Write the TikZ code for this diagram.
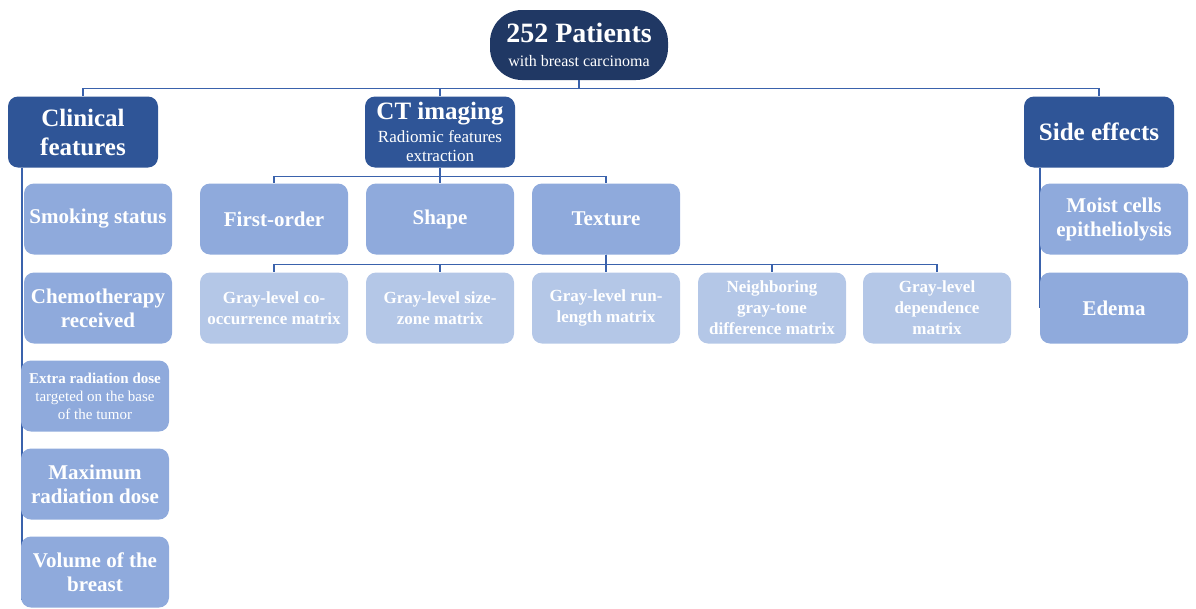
\documentclass[tikz,border=0pt]{standalone}
\usepackage{fontspec}
\setmainfont{Liberation Serif}
\usetikzlibrary{backgrounds}
\definecolor{navy}{HTML}{203864}
\definecolor{dkblue}{HTML}{2F5597}
\definecolor{mdblue}{HTML}{8FAADC}
\definecolor{ltblue}{HTML}{B4C7E7}
\definecolor{lnblue}{HTML}{3A62AC}
\begin{document}
\begin{tikzpicture}[x=1pt,y=-1pt,
    box/.style={rounded corners=10pt, text=white, align=center, inner sep=2pt},
    lvlone/.style={box, fill=dkblue, minimum width=150pt, minimum height=71pt, font=\bfseries\fontsize{25}{29}\selectfont},
    lvltwo/.style={box, fill=mdblue, minimum width=148pt, minimum height=71pt, font=\bfseries\fontsize{21}{24}\selectfont},
    lvlthree/.style={box, fill=ltblue, minimum width=148pt, minimum height=71pt, font=\bfseries\fontsize{17}{21}\selectfont},
    link/.style={draw=lnblue, line width=1.2pt}]
    \useasboundingbox (0,0) rectangle (1196,608);
    % root
    \node[box, fill=navy, rounded corners=32pt, minimum width=178pt, minimum height=70pt,
          font=\fontsize{16}{19}\selectfont] (top) at (579,45)
        {{\bfseries\fontsize{28}{30}\selectfont 252 Patients}\\[5pt]with breast carcinoma};
    % first level
    \node[lvlone] (clin) at (83,132) {Clinical\\features};
    \node[lvlone, font=\fontsize{17}{19}\selectfont] (ct) at (440,132)
        {{\bfseries\fontsize{25}{27}\selectfont CT imaging}\\[4pt]Radiomic features\\extraction};
    \node[lvlone] (side) at (1099,132) {Side effects};
    % clinical features
    \node[lvltwo] (smok) at (98,219) {Smoking status};
    \node[lvltwo] (chemo) at (98,308) {Chemotherapy\\received};
    \node[lvltwo, font=\fontsize{15}{18}\selectfont] (extra) at (95,396) {\bfseries Extra radiation dose\\targeted on the base\\of the tumor};
    \node[lvltwo] (maxd) at (95,484) {Maximum\\radiation dose};
    \node[lvltwo] (vol) at (95,572) {Volume of the\\breast};
    % radiomic features
    \node[lvltwo] (fo) at (274,219) {First-order};
    \node[lvltwo] (shp) at (440,219) {Shape};
    \node[lvltwo] (tex) at (606,219) {Texture};
    \node[lvlthree] (glcm) at (274,308) {Gray-level co-\\occurrence matrix};
    \node[lvlthree] (glszm) at (440,308) {Gray-level size-\\zone matrix};
    \node[lvlthree] (glrlm) at (606,308) {Gray-level run-\\length matrix};
    \node[lvlthree] (ngtdm) at (772,308) {Neighboring\\gray-tone\\difference matrix};
    \node[lvlthree] (gldm) at (937,308) {Gray-level\\dependence\\matrix};
    % side effects
    \node[lvltwo] (moist) at (1114,219) {Moist cells\\epitheliolysis};
    \node[lvltwo] (edema) at (1114,308) {Edema};
    % connectors
    \draw[link] (top.south) -- ++(0,8) -| (clin.north);
    \draw[link] (top.south) -- ++(0,8) -| (ct.north);
    \draw[link] (top.south) -- ++(0,8) -| (side.north);
    \draw[link] (ct.south) -- ++(0,9) -| (fo.north);
    \draw[link] (ct.south) -- ++(0,9) -| (shp.north);
    \draw[link] (ct.south) -- ++(0,9) -| (tex.north);
    \foreach \n in {glcm,glszm,glrlm,ngtdm,gldm}
        \draw[link] (tex.south) -- ++(0,10) -| (\n.north);
    \coordinate (clinend) at (22,600);
    \coordinate (sideend) at (1040,308);
    \begin{scope}[on background layer]
        \draw[link] (clin.south -| clinend) -- (clinend);
        \draw[link] (side.south -| sideend) -- (sideend);
    \end{scope}
\end{tikzpicture}
\end{document}
